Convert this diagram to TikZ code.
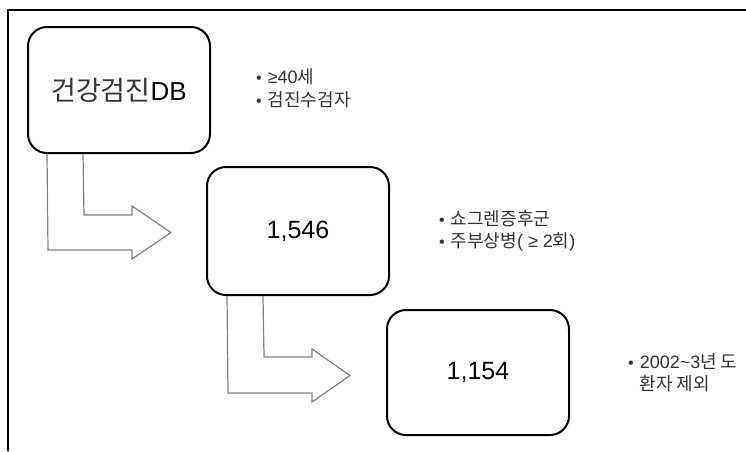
\documentclass[tikz,border=0pt]{standalone}
\usepackage{fontspec}
\setmainfont{Liberation Sans}
\newfontfamily\kr{Noto Sans CJK KR}
\newcommand\mybul{{\fontsize{16}{16}\selectfont\textbullet}\hspace{6pt}}
\definecolor{arrowgray}{HTML}{808080}
\definecolor{krtext}{HTML}{333333}
\tikzset{
  box/.style={draw, line width=2pt, rounded corners=19pt, minimum width=182pt, inner sep=0pt, font=\fontsize{25}{30}\selectfont},
  blockarrow/.style={draw=arrowgray, line width=1.2pt, line join=miter},
  bullettext/.style={anchor=west, inner sep=0pt, font=\fontsize{18}{20}\selectfont, text=krtext},
  frameline/.style={line width=1.6pt}
}
\begin{document}
\begin{tikzpicture}[x=1pt,y=-1pt]
\useasboundingbox (0,0) rectangle (746,451);
\draw[frameline] (8,451) -- (8,10) -- (746,10);

\node[box, minimum height=126pt] (b1) at (119,90) {{\fontsize{27}{30}\selectfont\kr\color{krtext}건강검진}{\fontsize{26}{30}\selectfont DB}};
\node[box, minimum height=128pt] (b2) at (298,231) {1,546};
\node[box, minimum height=125pt] (b3) at (478,372.5) {1,154};

\draw[blockarrow] ([xshift=20pt]b1.south west) -- (48,250) -- (132,250) -- (132,259) -- (171,232.5) -- (132,206) -- (132,215) -- (84,215) -- ([xshift=56pt]b1.south west);
\draw[blockarrow] ([xshift=21pt]b2.south west) -- (228,393) -- (312,393) -- (312,402) -- (350,375.5) -- (312,349) -- (312,357) -- (264,357) -- ([xshift=57pt]b2.south west);

\node[bullettext] (g1a) at (256,77) {\mybul≥40{\kr 세}};
\node[bullettext] (g1b) at (256,100) {\mybul{\kr 검진수검자}};
\node[bullettext] (g2a) at (439,219) {\mybul{\kr 쇼그렌증후군}};
\node[bullettext] (g2b) at (439,242) {\mybul{\kr 주부상병}( ≥ 2{\kr 회})};
\node[bullettext] (g3a) at (628,362) {\mybul 2002\textasciitilde3{\kr 년 도}};
\node[bullettext] (g3b) at (628,384) {\hphantom{\mybul}{\kr 환자 제외}};
\end{tikzpicture}
\end{document}
